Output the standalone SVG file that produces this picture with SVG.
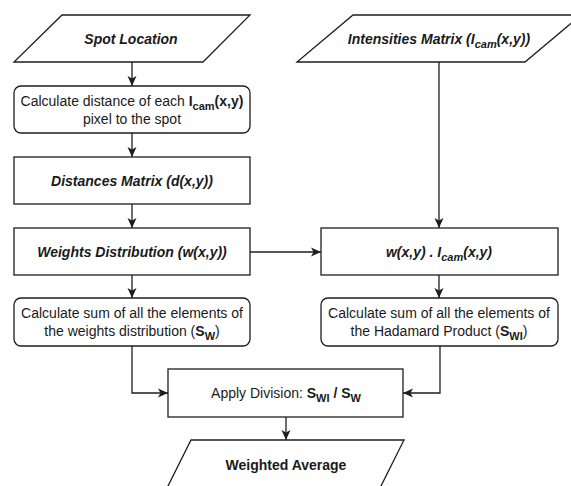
<svg xmlns="http://www.w3.org/2000/svg" width="571" height="486" viewBox="0 0 571 486">
<style>
.s{fill:#fff;stroke:#1e1e1e;stroke-width:1.3}
.c{fill:none;stroke:#1e1e1e;stroke-width:1.3}
text{font-family:"Liberation Sans",Arial,sans-serif;font-size:14px;fill:#1a1a1a;text-anchor:middle}
.bi{font-weight:bold;font-style:italic}
.b{font-weight:bold}
.sub{font-size:11px}
</style>
<defs>
<marker id="ah" viewBox="0 0 10 10" refX="10" refY="5" markerWidth="10" markerHeight="10" markerUnits="userSpaceOnUse" orient="auto">
<path d="M0,0.5 L10,5 L0,9.5 L2.5,5 Z" fill="#1e1e1e"/>
</marker>
</defs>
<rect width="571" height="486" fill="#fff"/>
<g id="connectors">
<path class="c" d="M132,62 V86" marker-end="url(#ah)"/>
<path class="c" d="M132,133 V157" marker-end="url(#ah)"/>
<path class="c" d="M132,204 V228" marker-end="url(#ah)"/>
<path class="c" d="M132,275 V298" marker-end="url(#ah)"/>
<path class="c" d="M439,62 V228" marker-end="url(#ah)"/>
<path class="c" d="M250,252 H321" marker-end="url(#ah)"/>
<path class="c" d="M439,275 V298" marker-end="url(#ah)"/>
<path class="c" d="M132,346 V393 H168" marker-end="url(#ah)"/>
<path class="c" d="M440,346 V393 H403" marker-end="url(#ah)"/>
<path class="c" d="M286,417 V440" marker-end="url(#ah)"/>
</g>
<g id="spot">
<path class="s" d="M62,15 H250 L203,62 H14 Z"/>
<text x="131" y="44" class="bi">Spot Location</text>
</g>
<g id="intensities">
<path class="s" d="M353,15 H581 L525,62 H297 Z"/>
<text x="439" y="44" class="bi">Intensities Matrix (I<tspan class="sub" dy="4">cam</tspan><tspan dy="-4">(x,y))</tspan></text>
</g>
<g id="calcdist">
<rect class="s" x="14" y="86" width="236" height="47" rx="7"/>
<text x="132" y="106">Calculate distance of each <tspan class="b">I</tspan><tspan class="b sub" dy="4">cam</tspan><tspan class="b" dy="-4">(x,y)</tspan></text>
<text x="132" y="124">pixel to the spot</text>
</g>
<g id="distances">
<rect class="s" x="14" y="157" width="236" height="47"/>
<text x="132" y="186" class="bi">Distances Matrix (d(x,y))</text>
</g>
<g id="weights">
<rect class="s" x="14" y="228" width="236" height="47"/>
<text x="132" y="257" class="bi">Weights Distribution (w(x,y))</text>
</g>
<g id="product">
<rect class="s" x="321" y="228" width="237" height="47"/>
<text x="439" y="257" class="bi">w(x,y) . I<tspan class="sub" dy="4">cam</tspan><tspan dy="-4">(x,y)</tspan></text>
</g>
<g id="sumw">
<rect class="s" x="14" y="298" width="236" height="48" rx="7"/>
<text x="132" y="318">Calculate sum of all the elements of</text>
<text x="132" y="336">the weights distribution (<tspan class="b">S</tspan><tspan class="b sub" dy="4">W</tspan><tspan dy="-4">)</tspan></text>
</g>
<g id="sumwi">
<rect class="s" x="321" y="298" width="237" height="48" rx="7"/>
<text x="439" y="318">Calculate sum of all the elements of</text>
<text x="439" y="336">the Hadamard Product (<tspan class="b">S</tspan><tspan class="b sub" dy="4">WI</tspan><tspan dy="-4">)</tspan></text>
</g>
<g id="division">
<rect class="s" x="168" y="369" width="235" height="48"/>
<text x="286" y="398">Apply Division: <tspan class="b">S</tspan><tspan class="b sub" dy="4">WI</tspan><tspan class="b" dy="-4"> / S</tspan><tspan class="b sub" dy="4">W</tspan></text>
</g>
<g id="average">
<path class="s" d="M191,440 H404 L380.5,487 H167.5 Z"/>
<text x="286" y="470" class="b">Weighted Average</text>
</g>
</svg>
